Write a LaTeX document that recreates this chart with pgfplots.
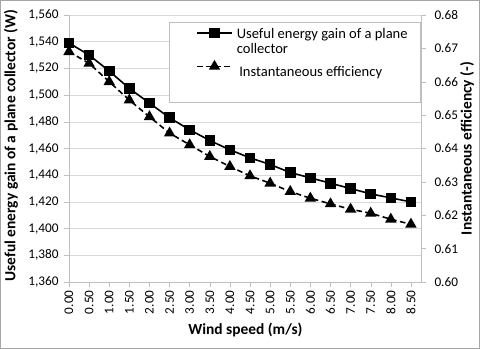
\documentclass[border=0pt]{standalone}
\usepackage{fontspec}
\setmainfont{Carlito}
\usepackage{pgfplots}
\pgfplotsset{compat=1.18}

\definecolor{gridgray}{HTML}{D9D9D9}
\definecolor{axgray}{HTML}{BFBFBF}
\definecolor{framegray}{HTML}{A6A6A6}

% wind speed (m/s), useful energy gain (W), instantaneous efficiency (-)
\pgfplotstableread{
v    gain   eff
0.0  1539   0.6690
0.5  1530   0.6655
1.0  1518   0.6600
1.5  1505   0.6545
2.0  1494   0.6495
2.5  1483   0.6446
3.0  1474   0.6411
3.5  1466   0.6376
4.0  1459   0.6346
4.5  1453   0.6318
5.0  1448   0.6296
5.5  1442   0.6271
6.0  1438   0.6251
6.5  1434   0.6234
7.0  1430   0.6218
7.5  1426   0.6206
8.0  1423   0.6188
8.5  1420   0.6173
}\datatable

\newcommand\tickfont{\fontsize{13.3}{16}\selectfont}
\newcommand\labelfont{\bfseries\fontsize{15.5}{18}\selectfont}
\newcommand\legfont{\fontsize{14.6}{17}\selectfont}

\pgfplotsset{
  common/.style={
    at={(69bp,67bp)}, anchor=south west,
    scale only axis, width=352bp, height=267bp,
    xmin=0, xmax=8.75,
    tick align=outside, major tick length=5bp,
    every tick/.style={axgray},
    axis line style={axgray},
    /pgf/number format/assume math mode=true,
    ticklabel style={font=\tickfont},
  },
}

\begin{document}
\begin{tikzpicture}[font=\tickfont]
\useasboundingbox (0,0) rectangle (480bp,349bp);
\draw[framegray, fill=white] (0.5bp,0.5bp) rectangle (479.5bp,348.5bp);

\begin{axis}[common,
    axis x line*=bottom, axis y line*=left,
    ymin=1360, ymax=1560, ytick distance=20,
    ymajorgrids, grid style={gridgray},
    xtick={0,0.5,1,1.5,2,2.5,3,3.5,4,4.5,5,5.5,6,6.5,7,7.5,8,8.5},
    xticklabel style={rotate=90, anchor=east,
      /pgf/number format/.cd, fixed, fixed zerofill, precision=2},
    yticklabel style={xshift=-2bp, /pgf/number format/.cd, 1000 sep={,}},
    xlabel={Wind speed (m/s)},
    ylabel={Useful energy gain of a plane collector (W)},
    every axis x label/.style={at={(axis description cs:0.501,-0.18)}, anchor=center,
      font=\labelfont},
    every axis y label/.style={at={(axis description cs:-0.165,0.51)}, rotate=90, anchor=center,
      font=\labelfont},
  ]
  \addplot[black, line width=1.6bp, mark=square*, mark size=4.5bp]
    table[x=v, y=gain] {\datatable};
\end{axis}

% legend frame
\draw[axgray, fill=white] (169bp,327bp) rectangle (420bp,247bp);

\begin{axis}[common,
    axis x line=none, axis y line*=right,
    ymin=0.60, ymax=0.68, ytick distance=0.01,
    yticklabel style={xshift=5bp, /pgf/number format/.cd, fixed, fixed zerofill, precision=2},
    ylabel={Instantaneous efficiency (-)},
    every axis y label/.style={at={(axis description cs:1.131,0.5)}, rotate=90, anchor=center,
      font=\labelfont},
    legend cell align=left,
    legend image code/.code={%
      \draw[mark repeat=2, mark phase=2, #1] plot coordinates {(0bp,0bp) (17.5bp,0bp) (35bp,0bp)};},
    legend style={at={(axis description cs:0.3608,0.9588)}, anchor=north west,
      draw=none, fill=none, inner sep=0pt, nodes={inner sep=0pt},
      row sep=0pt, column sep=4bp, font=\legfont},
  ]
  \addlegendimage{black, line width=1.6bp, mark=square*, mark size=4.5bp}
  \addlegendentry{\raisebox{0pt}[12bp][2bp]{Useful energy gain of a plane}}
  \addlegendimage{empty legend}
  \addlegendentry{\raisebox{0pt}[14bp][4bp]{collector}}
  \addplot[black, line width=1.6bp, dash pattern=on 5.5bp off 3.5bp,
      mark=triangle*, mark size=5bp, mark options={solid}]
    table[x=v, y=eff] {\datatable};
  \addlegendentry{\raisebox{0pt}[21bp][14.4bp]{\hspace*{2.5bp}Instantaneous efficiency}}
\end{axis}
\end{tikzpicture}
\end{document}
